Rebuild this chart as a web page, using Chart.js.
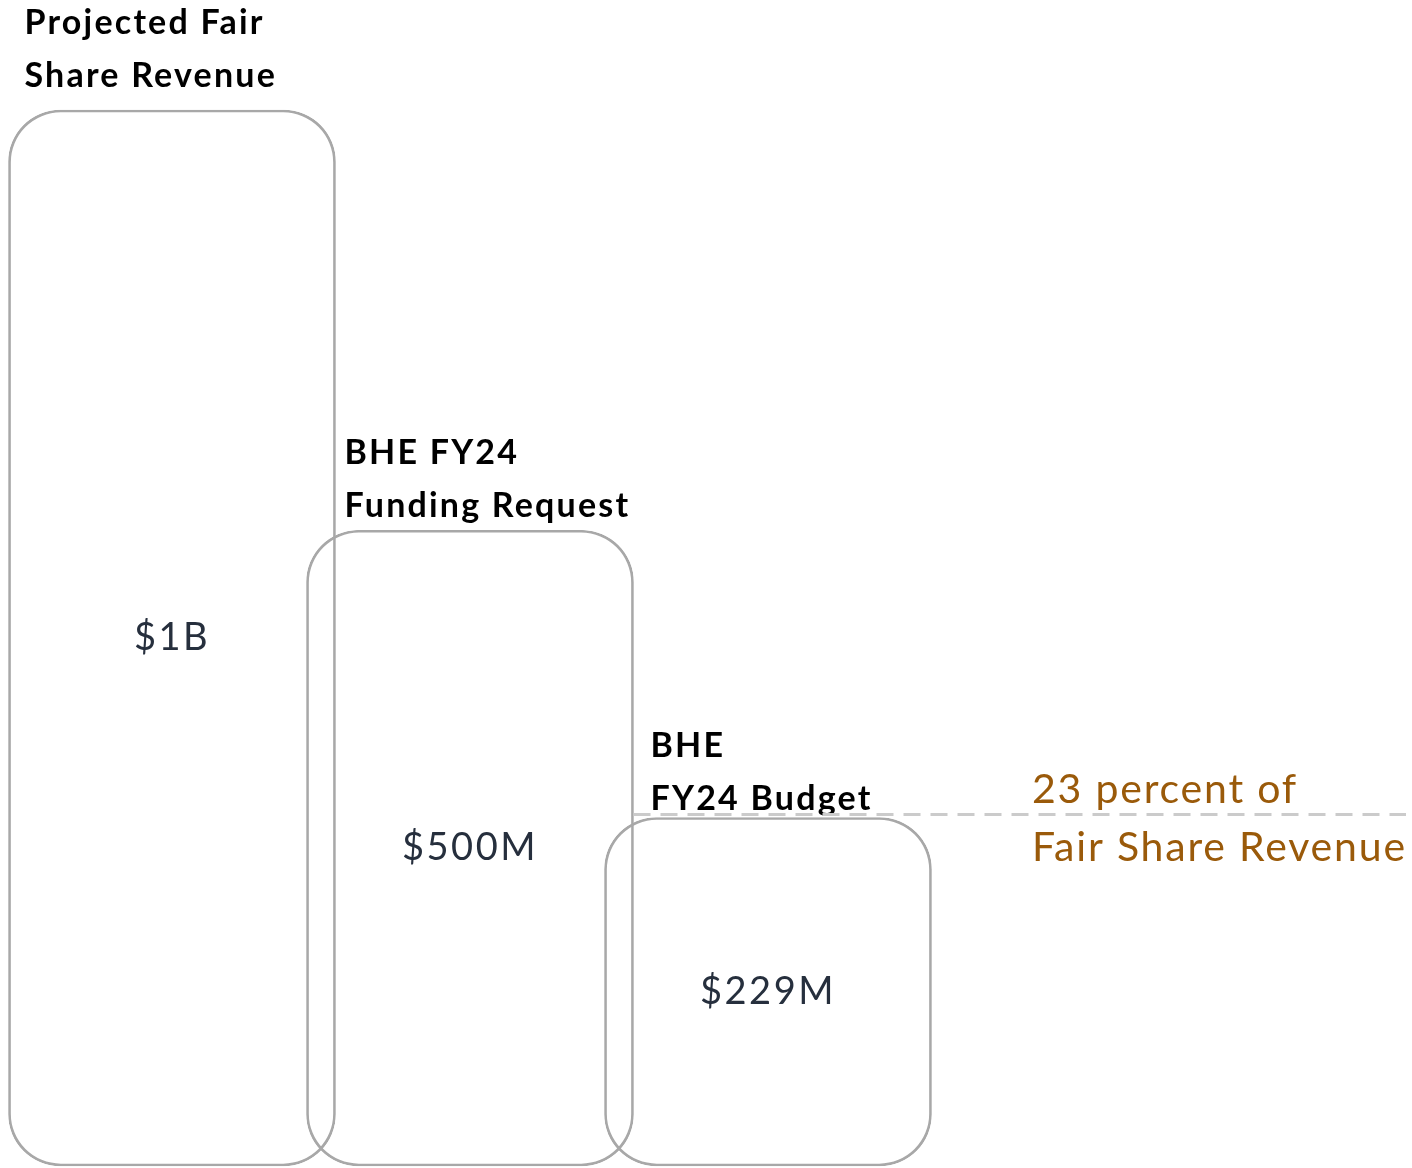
<!DOCTYPE html>
<html>
<head>
<meta charset="utf-8">
<script src="https://cdn.jsdelivr.net/npm/chart.js@4"></script>
<style>
  html, body { margin: 0; padding: 0; background: #fff; }
  #wrap { width: 1412px; height: 1168px; position: relative; }
</style>
</head>
<body>
<div id="wrap"><canvas id="chart"></canvas></div>
<script>
// bar names, drawn heights (as % of the tallest box, not to scale) and value labels
const categories = [
  ['Projected Fair', 'Share Revenue'],
  ['BHE FY24', 'Funding Request'],
  ['BHE', 'FY24 Budget']
];
const barHeights = [100, 60.2, 33.0];
const valueLabels = ['$1B', '$500M', '$229M'];
const noteLines = ['23 percent of', 'Fair Share Revenue'];

const FONT = 'Lato, "Open Sans", sans-serif';

const labelsPlugin = {
  id: 'boxLabels',
  afterDatasetsDraw(chart) {
    const ctx = chart.ctx;
    const bars = chart.getDatasetMeta(0).data;
    const inset = [16, 38, 46];   // text start inside each box
    const gap = [34, 24, 18];     // second title line above box top
    ctx.save();
    ctx.textBaseline = 'middle';

    bars.forEach((bar, i) => {
      const left = bar.x - bar.width / 2;
      // titles above the boxes
      ctx.font = `bold 34px ${FONT}`;
      ctx.letterSpacing = '2.2px';
      ctx.fillStyle = '#000';
      ctx.textAlign = 'left';
      const lines = categories[i];
      lines.forEach((t, j) => {
        const y = bar.y - gap[i] - (lines.length - 1 - j) * 53;
        ctx.fillText(t, left + inset[i], y);
      });
      // value in the middle of the box
      ctx.font = `38px ${FONT}`;
      ctx.letterSpacing = '2.5px';
      ctx.fillStyle = '#262f3d';
      ctx.textAlign = 'center';
      ctx.fillText(valueLabels[i], bar.x, (bar.y + bar.base) / 2);
    });

    // dashed reference line at the budget level
    const last = bars[bars.length - 1];
    const prev = bars[bars.length - 2];
    const lineY = last.y - 3;
    ctx.beginPath();
    ctx.setLineDash([17, 10]);
    ctx.lineWidth = 3;
    ctx.strokeStyle = '#cbcbcb';
    ctx.moveTo(prev.x + prev.width / 2, lineY);
    ctx.lineTo(chart.width - 6, lineY);
    ctx.stroke();
    ctx.setLineDash([]);

    // note to the right
    ctx.font = `41px ${FONT}`;
    ctx.letterSpacing = '1.8px';
    ctx.fillStyle = '#9a5a0a';
    ctx.textAlign = 'left';
    ctx.fillText(noteLines[0], 1032, lineY - 25);
    ctx.fillText(noteLines[1], 1032, lineY + 33);
    ctx.restore();
  }
};

new Chart(document.getElementById('chart'), {
  type: 'bar',
  data: {
    labels: categories.map(c => c.join(' ')),
    datasets: [{
      data: barHeights,
      backgroundColor: 'rgba(255,255,255,0)',
      borderColor: '#a8a8a8',
      borderWidth: 2,
      borderRadius: 52,
      borderSkipped: false,
      barThickness: 327,
      clip: false
    }]
  },
  options: {
    responsive: true,
    maintainAspectRatio: false,
    animation: false,
    layout: { padding: { left: 23, right: 495, top: 110, bottom: 2 } },
    plugins: { legend: { display: false }, tooltip: { enabled: false } },
    scales: {
      x: { display: false },
      y: { display: false, min: 0, max: 100 }
    }
  },
  plugins: [labelsPlugin]
});
</script>
</body>
</html>
